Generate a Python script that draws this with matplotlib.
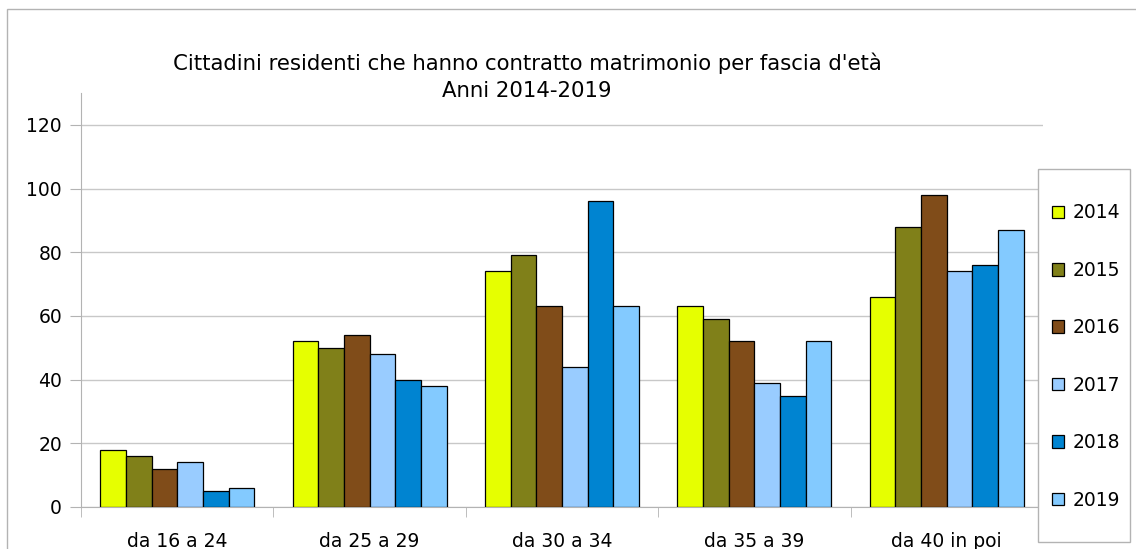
import matplotlib
matplotlib.use("Agg")
import matplotlib.pyplot as plt
import matplotlib.patches as mpatches
import numpy as np

categories = ["da 16 a 24", "da 25 a 29", "da 30 a 34", "da 35 a 39", "da 40 in poi"]
years = ["2014", "2015", "2016", "2017", "2018", "2019"]
values = {
    "2014": [18, 52, 74, 63, 66],
    "2015": [16, 50, 79, 59, 88],
    "2016": [12, 54, 63, 52, 98],
    "2017": [14, 48, 44, 39, 74],
    "2018": [5, 40, 96, 35, 76],
    "2019": [6, 38, 63, 52, 87],
}
colors = ["#E6FF00", "#808019", "#804C19", "#99CCFF", "#0084D1", "#83CAFF"]
yticks = [0, 20, 40, 60, 80, 100, 120]

W, H = 1136, 549
PX = 0.72  # points per pixel at dpi 100
fig = plt.figure(figsize=(W / 100, H / 100), dpi=100)
plt.rcParams['font.family'] = ['DejaVu Sans']
fs = 13.5
fs_title = 15.3

# outer border
fig.patches.append(mpatches.Rectangle((7 / W, -0.2), 1.2, 1.2 - 9 / H,
                                      transform=fig.transFigure, fill=False,
                                      edgecolor="#b3b3b3", linewidth=1.0))

ax = fig.add_axes([81 / W, 42 / H, (1043 - 81) / W, (507 - 93) / H])
n = len(categories)
x = np.arange(n)
bw = 0.8 / len(years)
for i, (yr, c) in enumerate(zip(years, colors)):
    ax.bar(x - 0.4 + bw * (i + 0.5), values[yr], width=bw, color=c,
           edgecolor="black", linewidth=0.9, zorder=3, label=yr)

ax.set_xlim(-0.5, n - 0.5)
ax.set_ylim(0, 130)
ax.set_yticks(yticks)
ax.set_yticklabels([str(v) for v in yticks], fontsize=fs)
ax.yaxis.grid(True, color="#c8c8c8", linewidth=1.0, zorder=0)
ax.tick_params(axis="y", length=11 * PX, color="#b3b3b3", pad=8 * PX)
ax.set_xticks(x)
ax.set_xticklabels(categories, fontsize=fs)
ax.tick_params(axis="x", length=0, pad=25 * PX)
# category separators
ax.set_xticks(np.arange(n + 1) - 0.5, minor=True)
ax.tick_params(axis="x", which="minor", length=10 * PX, color="#b3b3b3")
for s in ["top", "right"]:
    ax.spines[s].set_visible(False)
ax.spines["left"].set_color("#b3b3b3")
ax.spines["bottom"].set_color("#b3b3b3")

fig.text(527 / W, 1 - 63 / H, "Cittadini residenti che hanno contratto matrimonio per fascia d'età",
         ha="center", va="center", fontsize=fs_title)
fig.text(527 / W, 1 - 91 / H, "Anni 2014-2019", ha="center", va="center", fontsize=fs_title)

# legend frame
fig.patches.append(mpatches.Rectangle((1038 / W, 1 - 542 / H), (1130 - 1038) / W, (542 - 169) / H,
                                      transform=fig.transFigure, facecolor="white",
                                      edgecolor="#b3b3b3", linewidth=1.0, zorder=1))
handles = [mpatches.Patch(facecolor=c, edgecolor="black", linewidth=0.9) for c in colors]
leg = fig.legend(handles, years, loc="center left", bbox_to_anchor=(1052 / W, 1 - 356.5 / H),
                 fontsize=fs, frameon=False, labelspacing=2.05,
                 handlelength=0.66, handleheight=0.66, handletextpad=0.42,
                 borderpad=0, borderaxespad=0)
leg.set_zorder(2)

fig.savefig("out.png", dpi=100)
